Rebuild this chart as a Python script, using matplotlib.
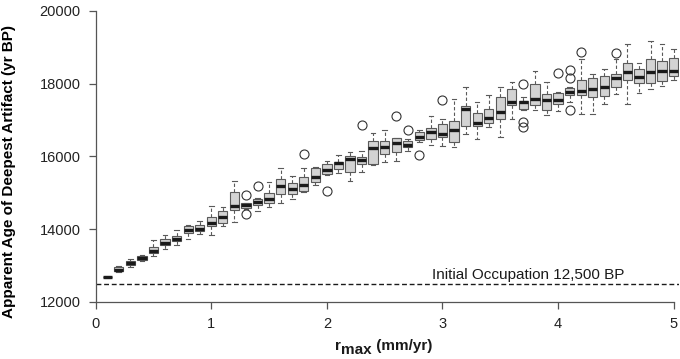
import numpy as np
import matplotlib
matplotlib.use("Agg")
import matplotlib.pyplot as plt

plt.rcParams["font.family"] = ["Liberation Sans", "DejaVu Sans"]

# ── data ───────────────────────────────────────────────────────────────────
r_max = [round(0.1 * i, 1) for i in range(1, 51)]

whis_lo = [12670, 12830, 12950, 13135, 13265, 13450, 13570, 13730, 13860, 13830,
           14090, 14200, 14550, 14490, 14620, 14710, 14840, 15020, 15210, 15480,
           15540, 15335, 15565, 15765, 15860, 15875, 16160, 16400, 16315, 16290,
           16270, 16620, 16470, 16810, 16530, 17020, 17280, 17280, 17150, 17245,
           17490, 17160, 17160, 17435, 17720, 17450, 17755, 17855, 17930, 18095]
q1 = [12680, 12850, 13020, 13165, 13340, 13560, 13685, 13905, 13945, 14090,
      14180, 14530, 14580, 14670, 14730, 14970, 14970, 15060, 15310, 15530,
      15650, 15585, 15795, 15785, 16070, 16125, 16255, 16455, 16470, 16530,
      16400, 16850, 16840, 16910, 17020, 17405, 17315, 17410, 17280, 17440,
      17680, 17690, 17635, 17665, 17920, 18100, 18010, 18010, 18060, 18220]
median = [12690, 12880, 13065, 13200, 13400, 13615, 13740, 13980, 14000, 14170,
          14330, 14640, 14660, 14750, 14830, 15190, 15100, 15210, 15445, 15630,
          15810, 15920, 15895, 16225, 16255, 16380, 16325, 16545, 16665, 16630,
          16730, 17300, 16930, 17050, 17215, 17485, 17490, 17590, 17555, 17560,
          17765, 17790, 17845, 17920, 18150, 18330, 18195, 18330, 18360, 18350]
q3 = [12700, 12950, 13135, 13270, 13500, 13725, 13815, 14090, 14110, 14330,
      14500, 15030, 14710, 14830, 14990, 15370, 15260, 15445, 15675, 15790,
      15860, 16015, 15980, 16425, 16425, 16500, 16415, 16665, 16775, 16890,
      16975, 17390, 17190, 17300, 17645, 17845, 17515, 18000, 17710, 17730,
      17875, 18110, 18150, 18205, 18260, 18560, 18405, 18670, 18635, 18700]
whis_hi = [12710, 12980, 13175, 13300, 13700, 13840, 13990, 14125, 14230, 14640,
           14600, 15330, 14730, 14850, 15310, 15690, 15470, 15690, 15720, 15870,
           16030, 16125, 16145, 16635, 16730, 16510, 16490, 16730, 17115, 17030,
           17570, 17920, 17500, 17680, 17900, 18055, 17630, 18340, 18040, 17780,
           17920, 18670, 18260, 18405, 18670, 19080, 18580, 19175, 19085, 18965]

outlier_x = [1.3, 1.3, 1.4, 1.8, 2.0, 2.3, 2.6, 2.7, 2.8, 3.0,
             3.7, 3.7, 3.7, 4.0, 4.1, 4.1, 4.1, 4.2, 4.5]
outlier_y = [14940, 14420, 15190, 16070, 15055, 16860, 17115, 16720, 16050, 17540,
             17985, 16945, 16820, 18295, 18375, 18155, 17290, 18880, 18845]

occupation = 12500

# ── build box stats ────────────────────────────────────────────────────────
stats = []
for i, x in enumerate(r_max):
    fl = [y for ox, y in zip(outlier_x, outlier_y) if np.isclose(ox, x)]
    stats.append(dict(med=median[i], q1=q1[i], q3=q3[i],
                      whislo=whis_lo[i], whishi=whis_hi[i], fliers=fl))

fig = plt.figure(figsize=(6.8, 3.59), dpi=100)
ax = fig.add_axes([0.1407, 0.1487, 0.8585, 0.826])

ax.bxp(stats, positions=r_max, widths=0.08, capwidths=0.04,
       patch_artist=True, manage_ticks=False,
       boxprops=dict(facecolor="#d3d3d3", edgecolor="#5a5a5a", linewidth=0.8),
       whiskerprops=dict(color="#5a5a5a", linestyle=(0, (3, 2)), linewidth=0.8),
       capprops=dict(color="#5a5a5a", linewidth=0.8),
       medianprops=dict(color="#1a1a1a", linewidth=2.4, solid_capstyle="butt"),
       flierprops=dict(marker="o", markerfacecolor="none", markeredgecolor="#333333",
                       markersize=6.5, markeredgewidth=0.8))

ax.axhline(occupation, color="#1a1a1a", linestyle=(0, (3.5, 2)), linewidth=1.0)
ax.text(3.74, occupation + 60, "Initial Occupation 12,500 BP",
        ha="center", va="bottom", fontsize=11, color="#1a1a1a")

ax.set_xlim(0, 5.05)
ax.set_ylim(11900, 20050)
ax.set_xticks([0, 1, 2, 3, 4, 5])
ax.set_yticks([12000, 14000, 16000, 18000, 20000])

for s in ["top", "right"]:
    ax.spines[s].set_visible(False)
ax.spines["left"].set_bounds(12000, 20000)
ax.spines["bottom"].set_bounds(0, 5)
ax.spines["bottom"].set_position(("data", 12000))
for s in ["left", "bottom"]:
    ax.spines[s].set_color("#555555")
    ax.spines[s].set_linewidth(0.9)
ax.tick_params(direction="out", length=5, width=0.9, color="#555555",
               labelsize=10.5, labelcolor="#222222", pad=6)

ax.set_ylabel("Apparent Age of Deepest Artifact (yr BP)", fontsize=11,
              fontweight="bold")
ax.yaxis.set_label_coords(-0.137, 0.452)

# x label: "r" with a lowered "max", then "(mm/yr)"
xl_kw = dict(fontsize=11, fontweight="bold", color="#1a1a1a")
t_r = fig.text(335 / 680, 1 - 350 / 359, "r", ha="left", va="baseline", **xl_kw)
t_sub = ax.annotate("max", xy=(1, 0), xycoords=t_r, xytext=(0.3, -3),
                    textcoords="offset points", ha="left", va="bottom", **xl_kw)
ax.annotate(" (mm/yr)", xy=(1, 0), xycoords=t_sub, xytext=(0, 3),
            textcoords="offset points", ha="left", va="bottom", **xl_kw)

fig.savefig("out.png", dpi=100)
